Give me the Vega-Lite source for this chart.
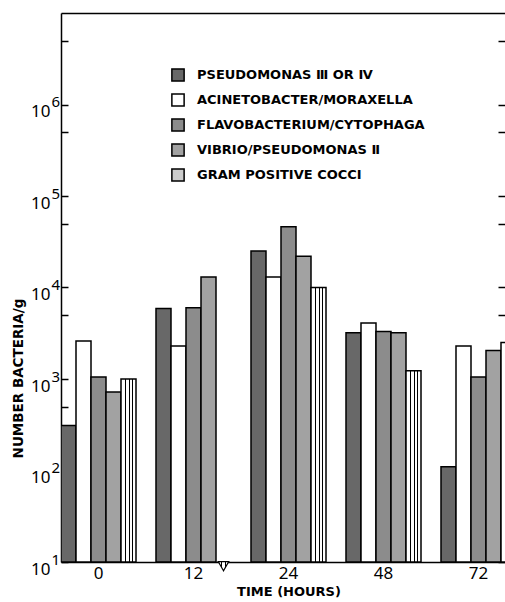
{
  "$schema": "https://vega.github.io/schema/vega-lite/v6.json",
  "width": 444,
  "height": 549,
  "autosize": {"type": "none"},
  "padding": {"left": 61, "top": 13, "right": 0, "bottom": 40},
  "config": {"view": {"stroke": null}, "font": "DejaVu Sans", "background": "white"},
  "data": {
    "values": [
      {"time": 0, "cat": "PSEUDOMONAS Ⅲ OR Ⅳ", "value": 310},
      {"time": 0, "cat": "ACINETOBACTER/MORAXELLA", "value": 2600},
      {"time": 0, "cat": "FLAVOBACTERIUM/CYTOPHAGA", "value": 1050},
      {"time": 0, "cat": "VIBRIO/PSEUDOMONAS Ⅱ", "value": 720},
      {"time": 0, "cat": "GRAM POSITIVE COCCI", "value": 1000},
      {"time": 12, "cat": "PSEUDOMONAS Ⅲ OR Ⅳ", "value": 5900},
      {"time": 12, "cat": "ACINETOBACTER/MORAXELLA", "value": 2300},
      {"time": 12, "cat": "FLAVOBACTERIUM/CYTOPHAGA", "value": 6000},
      {"time": 12, "cat": "VIBRIO/PSEUDOMONAS Ⅱ", "value": 13000},
      {"time": 12, "cat": "GRAM POSITIVE COCCI", "value": 9, "bdl": true},
      {"time": 24, "cat": "PSEUDOMONAS Ⅲ OR Ⅳ", "value": 25000},
      {"time": 24, "cat": "ACINETOBACTER/MORAXELLA", "value": 13000},
      {"time": 24, "cat": "FLAVOBACTERIUM/CYTOPHAGA", "value": 46000},
      {"time": 24, "cat": "VIBRIO/PSEUDOMONAS Ⅱ", "value": 22000},
      {"time": 24, "cat": "GRAM POSITIVE COCCI", "value": 10000},
      {"time": 48, "cat": "PSEUDOMONAS Ⅲ OR Ⅳ", "value": 3200},
      {"time": 48, "cat": "ACINETOBACTER/MORAXELLA", "value": 4100},
      {"time": 48, "cat": "FLAVOBACTERIUM/CYTOPHAGA", "value": 3300},
      {"time": 48, "cat": "VIBRIO/PSEUDOMONAS Ⅱ", "value": 3200},
      {"time": 48, "cat": "GRAM POSITIVE COCCI", "value": 1230},
      {"time": 72, "cat": "PSEUDOMONAS Ⅲ OR Ⅳ", "value": 110},
      {"time": 72, "cat": "ACINETOBACTER/MORAXELLA", "value": 2300},
      {"time": 72, "cat": "FLAVOBACTERIUM/CYTOPHAGA", "value": 1050},
      {"time": 72, "cat": "VIBRIO/PSEUDOMONAS Ⅱ", "value": 2050},
      {"time": 72, "cat": "GRAM POSITIVE COCCI", "value": 2500}
    ]
  },
  "layer": [
    {
      "transform": [{"filter": "datum.bdl !== true"}],
      "mark": {"type": "bar", "stroke": "black", "strokeWidth": 1.5, "clip": true},
      "encoding": {
        "x": {
          "field": "time", "type": "ordinal",
          "scale": {"range": [0, 455], "paddingInner": 0.2105, "paddingOuter": 0},
          "axis": {"orient": "bottom", "domainColor": "black", "domainWidth": 1.5, "ticks": false, "labelAngle": 0,
                   "labelFont": "Noto Sans", "labelFontSize": 17, "labelColor": "black", "labelPadding": 3,
                   "title": "TIME (HOURS)", "titleFontSize": 13, "titleFontWeight": "bold", "titleColor": "black", "titlePadding": 4}
        },
        "xOffset": {
          "field": "cat", "type": "nominal",
          "sort": ["PSEUDOMONAS Ⅲ OR Ⅳ", "ACINETOBACTER/MORAXELLA", "FLAVOBACTERIUM/CYTOPHAGA", "VIBRIO/PSEUDOMONAS Ⅱ", "GRAM POSITIVE COCCI"],
          "scale": {"paddingInner": 0, "paddingOuter": 0}
        },
        "y": {
          "field": "value", "type": "quantitative",
          "scale": {"type": "log", "domain": [10, 10000000], "nice": false},
          "axis": {
            "orient": "left",
            "values": [10, 50, 100, 500, 1000, 5000, 10000, 50000, 100000, 500000, 1000000, 5000000],
            "labelExpr": "(datum.value == 10 || datum.value == 100 || datum.value == 1000 || datum.value == 10000 || datum.value == 100000 || datum.value == 1000000) ? '10' : ''",
            "domainColor": "black", "domainWidth": 1.5, "tickColor": "black", "tickWidth": 1.5, "tickSize": -7,
            "labelFont": "Noto Sans", "labelFontSize": 17, "labelColor": "black", "labelPadding": 18, "labelBaseline": "middle", "labelOffset": 7,
            "grid": false,
            "title": "NUMBER BACTERIA/g", "titleFontSize": 13.5, "titleFontWeight": "bold", "titleColor": "black",
            "titleX": -43, "titleY": 365, "titleAlign": "center", "titleBaseline": "middle", "titleAngle": -90
          }
        },
        "y2": {"datum": 10},
        "fill": {
          "condition": {"test": "datum.cat === 'GRAM POSITIVE COCCI'",
            "value": {"gradient": "linear", "x1": 0, "y1": 0, "x2": 1, "y2": 0, "stops": [
                {"offset": 0, "color": "white"}, {"offset": 0.27, "color": "white"},
                {"offset": 0.27, "color": "black"}, {"offset": 0.35, "color": "black"},
                {"offset": 0.35, "color": "white"}, {"offset": 0.5, "color": "white"},
                {"offset": 0.5, "color": "black"}, {"offset": 0.58, "color": "black"},
                {"offset": 0.58, "color": "white"}, {"offset": 0.73, "color": "white"},
                {"offset": 0.73, "color": "black"}, {"offset": 0.81, "color": "black"},
                {"offset": 0.81, "color": "white"}, {"offset": 1, "color": "white"}]}},
          "field": "cat", "type": "nominal",
          "scale": {
            "domain": ["PSEUDOMONAS Ⅲ OR Ⅳ", "ACINETOBACTER/MORAXELLA", "FLAVOBACTERIUM/CYTOPHAGA", "VIBRIO/PSEUDOMONAS Ⅱ", "GRAM POSITIVE COCCI"],
            "range": ["#686868", "#ffffff", "#8c8c8c", "#a2a2a2", "#cccccc"]
          },
          "legend": {
            "orient": "none", "legendX": 110, "legendY": 55, "title": null,
            "symbolType": "square", "symbolSize": 150, "symbolStrokeColor": "black", "symbolStrokeWidth": 1.5,
            "labelFontSize": 13, "labelFontWeight": "bold", "labelColor": "black", "labelLimit": 400,
            "labelOffset": 12, "rowPadding": 5
          }
        }
      }
    },
    {
      "transform": [{"filter": "datum.bdl === true"}],
      "mark": {"type": "point", "shape": "triangle-down", "filled": true, "size": 110, "stroke": "black", "strokeWidth": 1.2, "opacity": 1,
        "fill": {"gradient": "linear", "x1": 0, "y1": 0, "x2": 1, "y2": 0, "stops": [
                {"offset": 0, "color": "white"}, {"offset": 0.3, "color": "white"},
                {"offset": 0.3, "color": "black"}, {"offset": 0.38, "color": "black"},
                {"offset": 0.38, "color": "white"}, {"offset": 0.62, "color": "white"},
                {"offset": 0.62, "color": "black"}, {"offset": 0.7, "color": "black"},
                {"offset": 0.7, "color": "white"}, {"offset": 1, "color": "white"}]}},
      "encoding": {
        "x": {"field": "time", "type": "ordinal",
              "axis": {"orient": "top", "labels": false, "ticks": false, "domainColor": "black", "domainWidth": 1.5, "title": null}},
        "xOffset": {"field": "cat", "type": "nominal",
          "sort": ["PSEUDOMONAS Ⅲ OR Ⅳ", "ACINETOBACTER/MORAXELLA", "FLAVOBACTERIUM/CYTOPHAGA", "VIBRIO/PSEUDOMONAS Ⅱ", "GRAM POSITIVE COCCI"]},
        "y": {"field": "value", "type": "quantitative",
              "axis": {"orient": "right", "labels": false, "domain": false, "grid": false,
                       "values": [10, 50, 100, 500, 1000, 5000, 10000, 50000, 100000, 500000, 1000000, 5000000],
                       "tickColor": "black", "tickWidth": 1.5, "tickSize": -7, "title": null}}
      }
    },
    {
      "transform": [{"filter": "datum.bdl === true"}],
      "mark": {"type": "point", "opacity": 0},
      "encoding": {
        "x": {"field": "time", "type": "ordinal", "axis": null},
        "xOffset": {"field": "cat", "type": "nominal",
          "sort": ["PSEUDOMONAS Ⅲ OR Ⅳ", "ACINETOBACTER/MORAXELLA", "FLAVOBACTERIUM/CYTOPHAGA", "VIBRIO/PSEUDOMONAS Ⅱ", "GRAM POSITIVE COCCI"]},
        "y": {"field": "value", "type": "quantitative",
              "axis": {"orient": "left", "domain": false, "ticks": false, "grid": false, "title": null,
                       "values": [10, 100, 1000, 10000, 100000, 1000000],
                       "labelExpr": "datum.value == 10 ? '1' : datum.value == 100 ? '2' : datum.value == 1000 ? '3' : datum.value == 10000 ? '4' : datum.value == 100000 ? '5' : '6'",
                       "labelFont": "Noto Sans", "labelFontSize": 15, "labelColor": "black",
                       "labelAlign": "left", "labelPadding": 10, "labelBaseline": "middle", "labelOffset": -3}}
      }
    }
  ],
  "resolve": {"axis": {"x": "independent", "y": "independent"}}
}
